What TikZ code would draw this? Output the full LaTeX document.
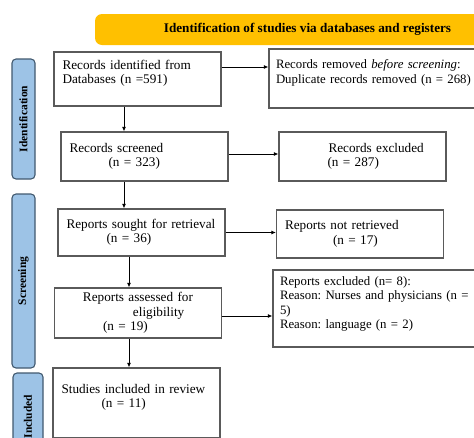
\documentclass[tikz,border=0pt]{standalone}
\usepackage{fontspec}
\setmainfont{Liberation Serif}
\usepackage{tikz}
\usetikzlibrary{arrows.meta}
\definecolor{prismagold}{HTML}{FFC000}
\definecolor{phasefill}{HTML}{9DC3E6}
\definecolor{phaseline}{HTML}{41596F}
\definecolor{boxline}{HTML}{5A5A5A}
\hyphenpenalty=10000

\begin{document}
\begin{tikzpicture}[
  x=1pt, y=-1pt,
  font=\fontsize{13.2}{14.5}\selectfont\frenchspacing,
  >=Latex,
  flowbox/.style={draw=boxline, line width=1.1pt, align=left, text width=150pt, inner xsep=8.5pt, inner ysep=2pt},
  widebox/.style={flowbox, text width=250pt, inner xsep=7pt, font=\fontsize{12.8}{14.5}\selectfont\frenchspacing},
  phase/.style={draw=phaseline, fill=phasefill, line width=1.1pt, rounded corners=4pt, rotate=90, inner sep=0pt, font=\fontsize{11.5}{12}\selectfont\bfseries},
  arr/.style={-{Latex[length=4.5pt,width=4pt]}, line width=0.9pt}
]
\useasboundingbox (0,0) rectangle (474,437);
\clip (0,0) rectangle (474,437);
\node[fill=prismagold, rounded corners=7pt, minimum width=425pt, minimum height=31pt, font=\fontsize{13.2}{14.5}\selectfont\bfseries] (banner) at (307.5,29.5) {Identification of studies via databases and registers};
\node[phase, minimum width=120pt, minimum height=23pt] (idph) at (23.5,119) {Identification};
\node[phase, minimum width=174pt, minimum height=23pt] (scph) at (23.5,281) {Screening};
\node[phase, minimum width=87pt, minimum height=30pt] (inph) at (28,416.5) {Included};
\node[flowbox, minimum height=54pt] (rid) at (137.5,79) {Records identified from\\Databases (n =591)\\\mbox{}};
\node[widebox, minimum height=59pt] (rem) at (401,78.5) {Records removed \emph{before screening}:\\Duplicate records removed (n = 268)\\\mbox{}};
\node[flowbox, minimum height=49pt] (scr) at (144.5,156.5) {Records screened\\\hspace*{39pt}(n = 323)};
\node[flowbox, minimum height=49pt] (exc) at (362.5,156.5) {\hspace*{41pt}Records excluded\\\hspace*{40pt}(n = 287)};
\node[flowbox, minimum height=47pt] (rep) at (141.5,232.5) {Reports sought for retrieval\\\hspace*{40pt}(n = 36)};
\node[flowbox, minimum height=48pt] (nre) at (360,234) {Reports not retrieved\\\hspace*{48pt}(n = 17)};
\node[flowbox, minimum height=50pt] (ass) at (138,313) {\hspace*{20pt}Reports assessed for\\\hspace*{70pt}eligibility\\\hspace*{40pt}(n = 19)};
\node[widebox, minimum height=77pt] (exr) at (405,308.5) {Reports excluded (n= 8):\\Reason: Nurses and physicians (n =\\5)\\Reason: language (n = 2)\\[-3pt]\mbox{}};
\node[flowbox, minimum height=70pt] (inc) at (136.5,403) {Studies included in review\\\hspace*{40pt}(n = 11)\\\mbox{}};
\coordinate (colA) at (124,0);
\coordinate (colB) at (129,0);
\draw[arr] (rid.south -| colA) -- (scr.north -| colA);
\draw[arr] (scr.south -| colA) -- (rep.north -| colA);
\draw[arr] (rep.south -| colB) -- (ass.north -| colB);
\draw[arr] (ass.south -| colB) -- (inc.north -| colB);
\draw[arr] ([yshift=12pt]rid.east) -- ([yshift=12pt]rid.east -| rem.west);
\draw[arr] ([yshift=2.5pt]scr.east) -- ([yshift=2.5pt]scr.east -| exc.west);
\draw[arr] (rep.east) -- (rep.east -| nre.west);
\draw[arr] ([yshift=-3pt]ass.east) -- ([yshift=-3pt]ass.east -| exr.west);
\end{tikzpicture}
\end{document}
